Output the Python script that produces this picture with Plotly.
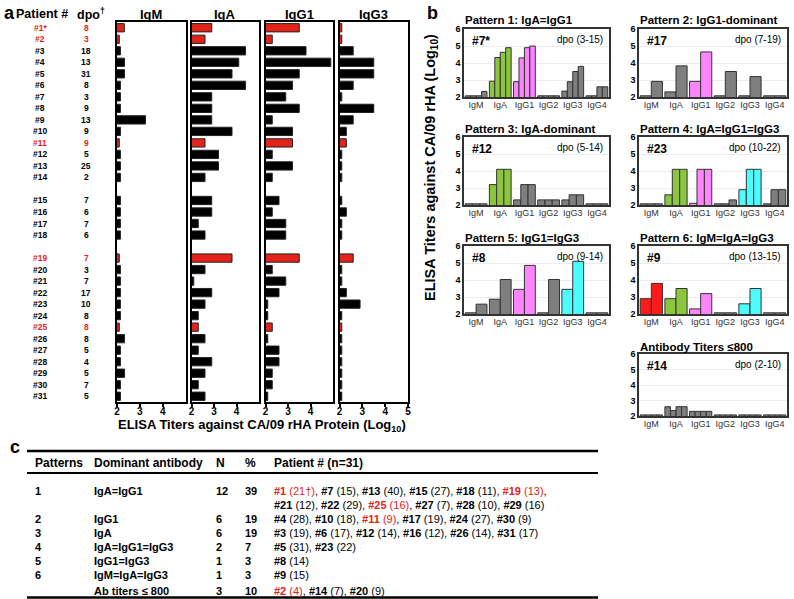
import plotly.graph_objects as go

W, H = 794, 599
FONT = "Liberation Sans, Arial, sans-serif"
RED = "#e2231a"

# ---------------- panel a data ----------------
patients = ['#1*', '#2', '#3', '#4', '#5', '#6', '#7', '#8', '#9', '#10', '#11', '#12', '#13', '#14',
            '#15', '#16', '#17', '#18', '#19', '#20', '#21', '#22', '#23', '#24', '#25', '#26',
            '#27', '#28', '#29', '#30', '#31']
dpo = [8, 3, 18, 13, 31, 8, 3, 9, 13, 9, 9, 5, 25, 2, 7, 6, 7, 6, 7, 3, 7, 17, 10, 8, 8, 8, 5, 4, 5, 7, 5]
red_patients = ['#1*', '#2', '#11', '#19', '#25']
gap_after = ['#14', '#18']

igm = [2.32, 2.1, 2.15, 2.33, 2.33, 2.15, 2.15, 2.15, 3.25, 2.15, 2.1, 2.15, 2.15, 2.15, 2.15, 2.15,
       2.15, 2.15, 2.1, 2.15, 2.15, 2.15, 2.15, 2.15, 2.1, 2.33, 2.15, 2.15, 2.33, 2.15, 2.15]
iga = [2.9, 2.6, 4.4, 4.1, 3.8, 4.4, 2.9, 2.9, 2.9, 3.8, 2.6, 3.2, 3.2, 2.6, 2.9, 2.9, 2.3, 2.6,
       3.8, 2.6, 2.1, 2.9, 2.6, 2.3, 2.3, 2.6, 2.3, 2.9, 2.6, 2.3, 2.6]
igg1 = [3.5, 2.3, 3.8, 4.9, 3.5, 3.2, 2.9, 3.5, 2.3, 3.2, 3.2, 2.3, 3.2, 2.3, 2.6, 2.3, 2.9, 2.9,
        3.5, 2.3, 2.9, 2.6, 2.1, 2.1, 2.3, 2.1, 2.6, 2.6, 2.3, 2.3, 2.1]
igg3 = [2.1, 2.1, 2.6, 3.5, 3.5, 2.6, 2.1, 3.5, 2.6, 2.3, 2.3, 2.1, 2.1, 2.1, 2.1, 2.3, 2.1, 2.1,
        2.6, 2.1, 2.1, 2.3, 2.9, 2.1, 2.1, 2.1, 2.1, 2.1, 2.1, 2.1, 2.1]
a_classes = ['IgM', 'IgA', 'IgG1', 'IgG3']
a_ticks = [2, 3, 4, 5]

# ---------------- panel b data ----------------
ab_classes = ['IgM', 'IgA', 'IgG1', 'IgG2', 'IgG3', 'IgG4']
b_titles = ['Pattern 1: IgA=IgG1', 'Pattern 2: IgG1-dominant', 'Pattern 3: IgA-dominant',
            'Pattern 4: IgA=IgG1=IgG3', 'Pattern 5: IgG1=IgG3', 'Pattern 6: IgM=IgA=IgG3',
            'Antibody Titers \u2264800']
b_ids = ['#7*', '#17', '#12', '#23', '#8', '#9', '#14']
b_dpo = ['dpo (3-15)', 'dpo (7-19)', 'dpo (5-14)', 'dpo (10-22)', 'dpo (9-14)', 'dpo (13-15)', 'dpo (2-10)']
p1 = [[2.07, 2.07, 2.07, 2.33], [2.93, 4.32, 4.63, 4.9], [2.9, 4.3, 4.9, 5.0],
      [2.07, 2.07, 2.07, 2.07], [2.35, 2.9, 3.5, 3.8], [2.07, 2.07, 2.6, 2.6]]
p2 = [[2.07, 2.92], [2.3, 3.83], [2.92, 4.65], [2.07, 3.5], [2.07, 3.2], [2.07, 2.07]]
p3 = [[2.07, 2.07, 2.07], [3.2, 4.1, 4.1], [2.3, 3.2, 3.2], [2.3, 2.3, 2.3], [2.3, 2.6, 2.6],
      [2.07, 2.07, 2.07]]
p4 = [[2.07, 2.07, 2.07], [2.6, 4.1, 4.1], [2.1, 4.1, 4.1], [2.07, 2.07, 2.3], [2.9, 4.1, 4.1],
      [2.07, 2.9, 2.9]]
p5 = [[2.07, 2.58], [2.87, 4.03], [3.45, 4.86], [2.07, 4.03], [3.45, 5.1], [2.07, 2.07]]
p6 = [[2.9, 3.8], [2.9, 3.5], [2.3, 3.2], [2.07, 2.07], [2.6, 3.5], [2.07, 2.07]]
p7 = [[2.07, 2.07, 2.07, 2.07], [2.6, 2.35, 2.6, 2.6], [2.3, 2.3, 2.3, 2.3],
      [2.07, 2.07, 2.07, 2.07], [2.07, 2.07, 2.07, 2.07], [2.07, 2.07, 2.07, 2.07]]
b_values = [p1, p2, p3, p4, p5, p6, p7]
b_highlight = [['IgA', 'IgG1'], ['IgG1'], ['IgA'], ['IgA', 'IgG1', 'IgG3'], ['IgG1', 'IgG3'],
               ['IgM', 'IgA', 'IgG1', 'IgG3'], []]
class_colors = {'IgM': '#ff1a1a', 'IgA': '#8cc63f', 'IgG1': '#ff85ff', 'IgG3': '#4dfcff'}
gray = '#7f7f7f'

# ---------------- panel c data ----------------
tbl_pattern = ['1', '2', '3', '4', '5', '6', '']
tbl_dominant = ['IgA=IgG1', 'IgG1', 'IgA', 'IgA=IgG1=IgG3', 'IgG1=IgG3', 'IgM=IgA=IgG3', 'Ab titers \u2264 800']
tbl_n = [12, 6, 6, 2, 1, 1, 3]
tbl_pct = [39, 19, 19, 7, 3, 3, 10]
tbl_members = [
    [('#1', '21\u2020'), ('#7', '15'), ('#13', '40'), ('#15', '27'), ('#18', '11'), ('#19', '13'),
     ('#21', '12'), ('#22', '29'), ('#25', '16'), ('#27', '7'), ('#28', '10'), ('#29', '16')],
    [('#4', '28'), ('#10', '18'), ('#11', '9'), ('#17', '19'), ('#24', '27'), ('#30', '9')],
    [('#3', '19'), ('#6', '17'), ('#12', '14'), ('#16', '12'), ('#26', '14'), ('#31', '17')],
    [('#5', '31'), ('#23', '22')],
    [('#8', '14')],
    [('#9', '15')],
    [('#2', '4'), ('#14', '7'), ('#20', '9')],
]
tbl_red = ['#1', '#2', '#11', '#19', '#25']


def xdom(a, b):
    return [a / W, b / W]


def ydom(top, bottom):
    return [1 - bottom / H, 1 - top / H]


def px_x(a):
    return a / W


def px_y(b):
    return 1 - b / H


fig = go.Figure()
layout = {}
ann = []
shapes = []

# row positions in panel a (blank rows after #14 and #18)
rows = []
r = 0
for p in patients:
    rows.append(r)
    r += 2 if p in gap_after else 1
n_rows = r

# ---------------- panel a ----------------
a_x = [(117, 185.5), (191.5, 259), (265.5, 333), (339.5, 408)]
a_data = [igm, iga, igg1, igg3]
for i, cls in enumerate(a_classes):
    n = i + 1
    s = '' if n == 1 else str(n)
    colors = [RED if p in red_patients else 'black' for p in patients]
    fig.add_trace(go.Bar(
        x=a_data[i], y=rows, orientation='h', width=0.72,
        marker=dict(color=colors, line=dict(color='#222222', width=1)),
        xaxis='x' + s, yaxis='y' + s, showlegend=False
    ))
    layout['xaxis' + s] = dict(
        domain=xdom(*a_x[i]), range=[2, 5], anchor='y' + s, automargin=False,
        tickvals=a_ticks if i == 3 else a_ticks[:3],
        ticks='outside', ticklen=3, tickwidth=1.5, tickcolor='black',
        ticklabelstandoff=-4,
        showline=True, linewidth=2, linecolor='black', mirror=True,
        showgrid=False, zeroline=False,
        tickfont=dict(size=10, weight='bold', color='black')
    )
    layout['yaxis' + s] = dict(
        domain=ydom(22, 402), range=[n_rows - 0.5, -0.5], anchor='x' + s, automargin=False,
        showticklabels=False, ticks='', showgrid=False, zeroline=False,
        showline=True, linewidth=2, linecolor='black', mirror=True
    )
    ann.append(dict(x=px_x((a_x[i][0] + a_x[i][1]) / 2), y=px_y(14), xref='paper', yref='paper',
                    text='<b>%s</b>' % cls, font=dict(size=13)))

for p, d, rr in zip(patients, dpo, rows):
    c = RED if p in red_patients else 'black'
    ann.append(dict(x=px_x(40), y=rr, xref='paper', yref='y', text='<b>%s</b>' % p,
                    font=dict(size=8.5, color=c)))
    ann.append(dict(x=px_x(86), y=rr, xref='paper', yref='y', text='<b>%s</b>' % d,
                    font=dict(size=8.5, color=c)))

ann.append(dict(x=px_x(42), y=px_y(14), xref='paper', yref='paper', text='<b>Patient #</b>',
                font=dict(size=12.5)))
ann.append(dict(x=px_x(91), y=px_y(14), xref='paper', yref='paper', text='<b>dpo<sup>\u2020</sup></b>',
                font=dict(size=12.5)))
ann.append(dict(x=px_x(262), y=px_y(425), xref='paper', yref='paper',
                text='<b>ELISA Titers against CA/09 rHA Protein (Log<sub>10</sub>)</b>',
                font=dict(size=13)))

# ---------------- panel b ----------------
b_pos = [((464, 609), (29, 97)), ((639, 787), (29, 97)),
         ((464, 609), (137, 205)), ((639, 787), (137, 205)),
         ((464, 609), (246, 314)), ((639, 787), (246, 314)),
         ((639, 787), (354, 416))]
b_title_y = [20, 20, 129, 129, 238, 238, 347]

for k, vals in enumerate(b_values):
    n = k + 5
    s = str(n)
    colors = [class_colors[c] if c in b_highlight[k] else gray for c in ab_classes]
    for j in range(len(vals[0])):
        fig.add_trace(go.Bar(
            x=ab_classes, y=[v[j] for v in vals],
            marker=dict(color=colors, line=dict(color='#333333', width=1)),
            xaxis='x' + s, yaxis='y' + s, showlegend=False
        ))
    (x0, x1), (y0, y1) = b_pos[k]
    layout['xaxis' + s] = dict(
        domain=xdom(x0, x1), anchor='y' + s, type='category', automargin=False,
        showline=True, linewidth=1.5, linecolor='#333333', mirror=True,
        ticks='', showgrid=False, zeroline=False, ticklabelstandoff=-2,
        tickfont=dict(size=9, color='#333333')
    )
    layout['yaxis' + s] = dict(
        domain=ydom(y0, y1), anchor='x' + s, range=[2, 6], tickvals=[2, 3, 4, 5, 6],
        automargin=False,
        showline=True, linewidth=1.5, linecolor='#333333', mirror=True,
        ticks='', showgrid=True, gridcolor='#ececec', gridwidth=1, zeroline=False,
        tickfont=dict(size=9, weight='bold', color='black')
    )
    ann.append(dict(x=px_x(x0 - 1), y=px_y(b_title_y[k]), xref='paper', yref='paper',
                    xanchor='left', text='<b>%s</b>' % b_titles[k], font=dict(size=11.5)))
    ann.append(dict(x=0.04, y=0.95, xref='x%s domain' % s, yref='y%s domain' % s,
                    xanchor='left', yanchor='top', text='<b>%s</b>' % b_ids[k], font=dict(size=12)))
    ann.append(dict(x=0.97, y=0.95, xref='x%s domain' % s, yref='y%s domain' % s,
                    xanchor='right', yanchor='top', text=b_dpo[k], font=dict(size=10)))

ann.append(dict(x=px_x(431), y=px_y(168), xref='paper', yref='paper', textangle=-90,
                text='<b>ELISA Titers against CA/09 rHA (Log<sub>10</sub>)</b>', font=dict(size=14.5)))

# panel letters
for letter, lx, ly in [('a', 9, 13), ('b', 432, 13), ('c', 15, 447)]:
    ann.append(dict(x=px_x(lx), y=px_y(ly), xref='paper', yref='paper',
                    text='<b>%s</b>' % letter, font=dict(size=18)))

# ---------------- panel c (table) ----------------
col_x = [33, 92, 214, 243, 272]
headers = ['Patterns', 'Dominant antibody', 'N', '%', 'Patient # (n=31)']
for hx, ht in zip(col_x, headers):
    ann.append(dict(x=px_x(hx), y=px_y(463), xref='paper', yref='paper', xanchor='left',
                    text='<b>%s</b>' % ht, font=dict(size=12)))

for y_line, lw in [(451, 2.5), (473, 1.8), (597.5, 2.5)]:
    shapes.append(dict(type='line', xref='paper', yref='paper', x0=px_x(27), x1=px_x(598),
                       y0=px_y(y_line), y1=px_y(y_line), line=dict(color='black', width=lw)))


def member_text(items):
    parts = []
    for pid, num in items:
        t = '<b>%s</b> (%s)' % (pid, num)
        if pid in tbl_red:
            t = '<span style="color:%s">%s</span>' % (RED, t)
        parts.append(t)
    return ', '.join(parts)


row_y = [491, 519, 533, 547, 561, 575, 591]
for i in range(len(tbl_dominant)):
    y = px_y(row_y[i])
    cells = [tbl_pattern[i], tbl_dominant[i], str(tbl_n[i]), str(tbl_pct[i])]
    for cx, ct in zip(col_x[:4], cells):
        if not ct:
            continue
        ann.append(dict(x=px_x(cx), y=y, xref='paper', yref='paper', xanchor='left',
                        text='<b>%s</b>' % ct, font=dict(size=11)))
    members = tbl_members[i]
    if len(members) > 6:
        lines = [member_text(members[:6]) + ',', member_text(members[6:])]
    else:
        lines = [member_text(members)]
    for li, txt in enumerate(lines):
        ann.append(dict(x=px_x(272), y=px_y(row_y[i] + 14 * li), xref='paper', yref='paper',
                        xanchor='left', text=txt, font=dict(size=11)))

for a in ann:
    a.setdefault('showarrow', False)
    a.setdefault('xanchor', 'center')
    a.setdefault('yanchor', 'middle')

fig.update_layout(
    template='none',
    width=W, height=H,
    margin=dict(l=0, r=0, t=0, b=0, autoexpand=False),
    paper_bgcolor='white', plot_bgcolor='white',
    font=dict(family=FONT, color='black'),
    barmode='group', bargap=0.1, bargroupgap=0,
    showlegend=False,
    annotations=ann, shapes=shapes,
    **layout
)

# the page body has a default 8px margin; drop it so the figure fills the window
fig.write_html("out.html", config={'displayModeBar': False},
               post_script="document.body.style.margin = '0px';")
